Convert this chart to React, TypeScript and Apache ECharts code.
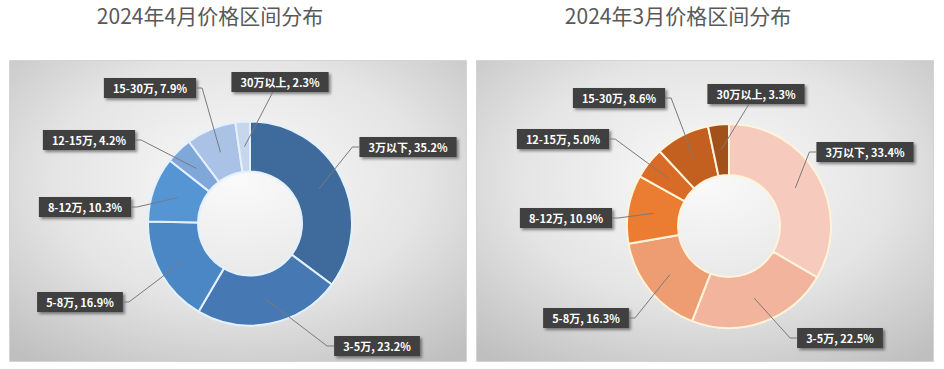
import React, { useEffect, useRef } from "react";
import * as echarts from "echarts";

const categories = ["3万以下", "3-5万", "5-8万", "8-12万", "12-15万", "15-30万", "30万以上"];
const aprilValues = [35.2, 23.2, 16.9, 10.3, 4.2, 7.9, 2.3];
const marchValues = [33.4, 22.5, 16.3, 10.9, 5.0, 8.6, 3.3];
const titles = ["2024年4月价格区间分布", "2024年3月价格区间分布"];

const blueColors = ["#3E6B9B", "#4679B3", "#4C87C5", "#5595D3", "#7FA7DA", "#A9C2E6", "#C8D6EC"];
const orangeColors = ["#F6CBBE", "#F3B49E", "#EE9D72", "#EB7D33", "#D86C26", "#C4601F", "#A3511B"];

// label box centres (layout)
const aprilLabelPos = [
  [408, 147], [377, 346], [80, 302], [85, 207], [89, 140], [150, 88], [280, 82],
];
const marchLabelPos = [
  [865, 152], [840, 338], [586, 318], [566, 218], [563, 139], [619, 98], [756, 94],
];

const FONT = "'Noto Sans CJK SC', 'Noto Sans', sans-serif";
const LABEL_FONT_SIZE = 11;
const PAD_X = 9;
const BOX_H = 20;

function labelText(name: string, v: number) {
  return `${name}, ${v.toFixed(1)}%`;
}

let measureCtx: CanvasRenderingContext2D | null = null;
function textWidth(t: string) {
  if (!measureCtx) {
    const c = document.createElement("canvas");
    measureCtx = c.getContext("2d");
  }
  if (!measureCtx) return t.length * 7;
  measureCtx.font = `bold ${LABEL_FONT_SIZE}px ${FONT}`;
  return measureCtx.measureText(t).width;
}

function makePie(
  values: number[],
  colors: string[],
  center: number[],
  radius: number[],
  borderColor: string,
  labelPos: number[][]
) {
  return {
    type: "pie",
    z: 2,
    center,
    radius,
    startAngle: 90,
    clockwise: true,
    avoidLabelOverlap: false,
    data: categories.map((name, i) => ({
      name,
      value: values[i],
      itemStyle: { color: colors[i] },
    })),
    itemStyle: { borderColor, borderWidth: 2 },
    label: {
      show: true,
      formatter: (p: any) => labelText(p.name, Number(p.value)),
      color: "#ffffff",
      fontWeight: "bold",
      fontSize: LABEL_FONT_SIZE,
      fontFamily: FONT,
      backgroundColor: "#404040",
      padding: [5, PAD_X, 4, PAD_X],
      shadowColor: "rgba(0,0,0,0.45)",
      shadowBlur: 3,
      shadowOffsetX: 2,
      shadowOffsetY: 2,
    },
    labelLine: { show: false },
    labelLayout: (params: any) => {
      const p = labelPos[params.dataIndex];
      return { x: p[0], y: p[1], align: "center", verticalAlign: "middle" };
    },
    emphasis: { disabled: true },
  };
}

function makeLeaderLines(values: number[], center: number[], radius: number[], labelPos: number[][]) {
  const total = values.reduce((a, b) => a + b, 0);
  const cum: number[] = [];
  let acc = 0;
  values.forEach((v) => {
    cum.push(acc + v / 2);
    acc += v;
  });
  const midR = (radius[0] + radius[1]) / 2;
  return {
    type: "custom",
    coordinateSystem: "none",
    z: 3,
    silent: true,
    data: values.map((v, i) => [i, v]),
    renderItem: (params: any) => {
      const i = params.dataIndex;
      const p = labelPos[i];
      const w = textWidth(labelText(categories[i], values[i])) + PAD_X * 2;
      const h = BOX_H;
      const ang = (cum[i] / total) * Math.PI * 2;
      const sx = center[0] + Math.sin(ang) * midR;
      const sy = center[1] - Math.cos(ang) * midR;
      const left = p[0] - w / 2;
      const right = p[0] + w / 2;
      let pts: number[][];
      if (sx < left) {
        pts = [[sx, sy], [left - 7, p[1]], [left, p[1]]];
      } else if (sx > right) {
        pts = [[sx, sy], [right + 6, p[1]], [right, p[1]]];
      } else {
        const ex = sx + (p[0] - sx) * 0.8;
        const ey = sy > p[1] ? p[1] + h / 2 : p[1] - h / 2;
        pts = [[sx, sy], [ex, ey]];
      }
      return {
        type: "polyline",
        shape: { points: pts },
        style: { stroke: "#7a7a7a", lineWidth: 1, fill: null },
      };
    },
  };
}

function panelBg(x: number, y: number, w: number, h: number) {
  return {
    type: "rect",
    shape: { x, y, width: w, height: h },
    style: {
      fill: new echarts.graphic.RadialGradient(0.5, 0.4, 0.75, [
        { offset: 0, color: "#fafafa" },
        { offset: 0.55, color: "#e4e4e4" },
        { offset: 1, color: "#bfbfbf" },
      ]),
      stroke: "#d4d4d4",
      lineWidth: 1,
    },
    z: -10,
  };
}

function titleText(x: number, text: string) {
  return {
    type: "text",
    x,
    y: 15,
    style: {
      text,
      fontSize: 21,
      fontFamily: FONT,
      fill: "#595959",
      align: "center",
      verticalAlign: "middle",
    },
  };
}

export default function App() {
  const ref = useRef<HTMLDivElement>(null);
  useEffect(() => {
    if (!ref.current) return;
    const chart = echarts.init(ref.current, undefined, { renderer: "svg" });
    chart.setOption({
      animation: false,
      backgroundColor: "#ffffff",
      graphic: [
        panelBg(9.5, 60.5, 457, 301),
        panelBg(476.5, 60.5, 457, 301),
        titleText(210, titles[0]),
        titleText(678, titles[1]),
      ],
      series: [
        makePie(aprilValues, blueColors, [250, 223.5], [52, 102], "#E3F1FF", aprilLabelPos),
        makePie(marchValues, orangeColors, [729, 226], [51, 102], "#FFF3D9", marchLabelPos),
        makeLeaderLines(aprilValues, [250, 223.5], [52, 102], aprilLabelPos),
        makeLeaderLines(marchValues, [729, 226], [51, 102], marchLabelPos),
      ],
    });
    return () => chart.dispose();
  }, []);
  return (
    <div
      ref={ref}
      style={{ position: "fixed", left: 0, top: 0, width: 944, height: 369 }}
    />
  );
}
